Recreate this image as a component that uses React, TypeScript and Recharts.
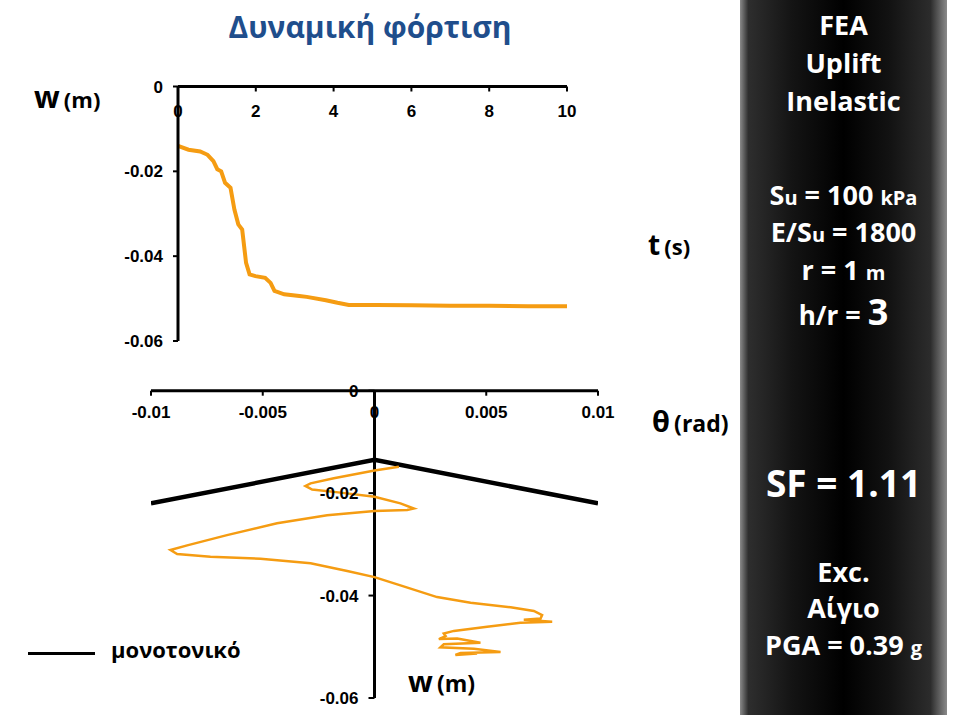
import React from 'react'
import { LineChart, Line, XAxis, YAxis, ReferenceLine, ReferenceDot } from 'recharts'

// time history: settlement w (m) vs time t (s)
const tTime = [0, 0.27, 0.57, 0.76, 0.91, 1.01, 1.11, 1.21, 1.35, 1.45, 1.55, 1.65, 1.75, 1.84, 1.99, 2.24, 2.38, 2.48, 2.73, 3.12, 3.31, 3.8, 4.1, 4.39, 5.08, 6, 7, 8, 9, 10]
const wTime = [-0.014, -0.0149, -0.0153, -0.0161, -0.0176, -0.0195, -0.02, -0.0227, -0.0239, -0.029, -0.0325, -0.0337, -0.0416, -0.0443, -0.0447, -0.0451, -0.0463, -0.0482, -0.049, -0.0494, -0.0496, -0.0504, -0.051, -0.0515, -0.0515, -0.0516, -0.0517, -0.0517, -0.0518, -0.0518]

// rotation vs settlement
const thetaMono = [-0.01, 0, 0.01]
const wMono = [-0.022, -0.0135, -0.022]
const thetaDyn = [0.00109, 0, -0.00182, -0.00286, -0.00309, -0.00279, -0.00152, 0, 0.00116, 0.00176, 0.00146, 0, -0.00212, -0.00436, -0.0066, -0.00838, -0.00913, -0.00883, -0.00734, -0.0051, -0.00286, -0.00122, 0, 0.00116, 0.0028, 0.0043, 0.00609, 0.00713, 0.0075, 0.00743, 0.00668, 0.00795, 0.00653, 0.00504, 0.00355, 0.0031, 0.00318, 0.00288, 0.0037, 0.00474, 0.0031, 0.00295, 0.00445, 0.00564, 0.00385, 0.00362, 0.00459]
const wDyn = [-0.01485, -0.0156, -0.0171, -0.0181, -0.0186, -0.0193, -0.0199, -0.0207, -0.022, -0.023, -0.0233, -0.0235, -0.0243, -0.0259, -0.0282, -0.0302, -0.0311, -0.0319, -0.0324, -0.0328, -0.0337, -0.0352, -0.0364, -0.038, -0.0403, -0.0414, -0.0423, -0.043, -0.0438, -0.0445, -0.0447, -0.0451, -0.0453, -0.0461, -0.0469, -0.0474, -0.0479, -0.0485, -0.0484, -0.0492, -0.0495, -0.0501, -0.0504, -0.051, -0.0512, -0.0516, -0.0513]

const tTicks = [0, 2, 4, 6, 8, 10]
const wTicks = [-0.06, -0.04, -0.02, 0]
const thetaTicks = [-0.01, -0.005, 0, 0.005, 0.01]

const timeRows = tTime.map((t, i) => ({ t, w: wTime[i] }))
const monoRows = thetaMono.map((theta, i) => ({ theta, w: wMono[i] }))
const dynRows = thetaDyn.map((theta, i) => ({ theta, w: wDyn[i] }))

const ORANGE = '#f59c12'
const SANS = "'Open Sans', 'Noto Sans', sans-serif"
const tickFont = { fontSize: 17, fontWeight: 700, fill: '#000', fontFamily: "'Liberation Sans', Arial, sans-serif" }
const axisLine = { stroke: '#000', strokeWidth: 3 }
const tickLine = { stroke: '#000', strokeWidth: 2 }

function YTick(props: any) {
  const { cx, cy, value } = props
  return (
    <g>
      <line x1={cx - 6} y1={cy} x2={cx} y2={cy} stroke="#000" strokeWidth={2} />
      <text x={cx - 16} y={cy + 6} textAnchor="end" {...tickFont}>{String(value)}</text>
    </g>
  )
}

function PanelLine({ y, size = 27, children }: { y: number; size?: number; children: React.ReactNode }) {
  return (
    <div style={{ position: 'absolute', left: 0, width: 207, top: y - 22, height: 44, lineHeight: '44px', textAlign: 'center', color: '#fff', fontWeight: 700, fontSize: size, fontFamily: SANS, whiteSpace: 'nowrap' }}>
      {children}
    </div>
  )
}

const small = { fontSize: 20 }

export default function App() {
  return (
    <div style={{ position: 'absolute', left: 0, top: 0, width: 957, height: 715, background: '#fff', overflow: 'hidden', fontFamily: SANS }}>
      <div style={{ position: 'absolute', left: 0, width: 740, top: 6, textAlign: 'center', color: '#1f4e8c', fontWeight: 700, fontSize: 30 }}>
        Δυναμική φόρτιση
      </div>

      <div style={{ position: 'absolute', left: 34, top: 76, fontWeight: 700, color: '#000', whiteSpace: 'nowrap' }}>
        <span style={{ fontSize: 30 }}>w</span> <span style={{ fontSize: 22 }}>(m)</span>
      </div>
      <div style={{ position: 'absolute', left: 648, top: 225, fontWeight: 700, color: '#000', whiteSpace: 'nowrap' }}>
        <span style={{ fontSize: 28 }}>t</span>&nbsp;<span style={{ fontSize: 22 }}>(s)</span>
      </div>
      <div style={{ position: 'absolute', left: 652, top: 401, fontWeight: 700, color: '#000', whiteSpace: 'nowrap' }}>
        <span style={{ fontSize: 29 }}>θ</span>&nbsp;<span style={{ fontSize: 23 }}>(rad)</span>
      </div>
      <div style={{ position: 'absolute', left: 408, top: 661, fontWeight: 700, color: '#000', whiteSpace: 'nowrap' }}>
        <span style={{ fontSize: 29 }}>w</span> <span style={{ fontSize: 23 }}>(m)</span>
      </div>

      <div style={{ position: 'absolute', left: 28, top: 652, width: 67, height: 3, background: '#000' }} />
      <div style={{ position: 'absolute', left: 111, top: 634, fontWeight: 700, fontSize: 22, color: '#000' }}>μονοτονικό</div>

      <div style={{ position: 'absolute', left: 100, top: 70 }}>
        <LineChart width={497} height={286} data={timeRows} margin={{ top: 16.5, right: 30, bottom: 15, left: 18 }}>
          <XAxis dataKey="t" type="number" domain={[0, 10]} ticks={tTicks} interval={0} orientation="top" mirror
            axisLine={axisLine} tickLine={tickLine} tickSize={5} tickMargin={13} tick={tickFont} />
          <YAxis type="number" domain={[-0.06, 0]} ticks={wTicks} interval={0} width={60}
            axisLine={axisLine} tickLine={tickLine} tickSize={5} tickMargin={10} tick={tickFont}
            tickFormatter={(v) => String(v)} />
          <Line dataKey="w" type="linear" stroke={ORANGE} strokeWidth={4} dot={false} isAnimationActive={false} />
        </LineChart>
      </div>

      <div style={{ position: 'absolute', left: 100, top: 370 }}>
        <LineChart width={528} height={345} margin={{ top: 20.7, right: 30, bottom: 17, left: 51 }}>
          <XAxis dataKey="theta" type="number" domain={[-0.01, 0.01]} ticks={thetaTicks} interval={0} orientation="top" mirror
            allowDataOverflow axisLine={axisLine} tickLine={tickLine} tickSize={5} tickMargin={10} tick={tickFont}
            tickFormatter={(v) => String(v)} />
          <YAxis type="number" dataKey="w" domain={[-0.06, 0]} hide allowDataOverflow />
          <ReferenceLine x={0} stroke="#000" strokeWidth={3} />
          {wTicks.map((v) => (
            <ReferenceDot key={v} x={0} y={v} r={0} shape={(p: any) => <YTick {...p} value={v} />} />
          ))}
          <Line data={monoRows} dataKey="w" type="linear" stroke="#000" strokeWidth={4.5} dot={false} isAnimationActive={false} />
          <Line data={dynRows} dataKey="w" type="linear" stroke={ORANGE} strokeWidth={2.5} dot={false} isAnimationActive={false} />
        </LineChart>
      </div>

      <div style={{ position: 'absolute', left: 740, top: 0, width: 207, height: 715, background: 'linear-gradient(to right, #8a8a8a 0%, #2e2e2e 4%, #141414 25%, #000 50%, #121212 72%, #2c2c2c 92%, #8a8a8a 100%)' }}>
        <PanelLine y={25}>FEA</PanelLine>
        <PanelLine y={63}>Uplift</PanelLine>
        <PanelLine y={101}>Inelastic</PanelLine>
        <PanelLine y={195}>S<span style={small}>u</span> = 100 <span style={small}>kPa</span></PanelLine>
        <PanelLine y={232}>E/S<span style={small}>u</span> = 1800</PanelLine>
        <PanelLine y={270}>r = 1 <span style={small}>m</span></PanelLine>
        <PanelLine y={312}><span style={{ fontSize: 26 }}>h/r</span> = <span style={{ fontSize: 36 }}>3</span></PanelLine>
        <PanelLine y={483} size={37}>SF = 1.11</PanelLine>
        <PanelLine y={572}>Exc.</PanelLine>
        <PanelLine y={608}>Αίγιο</PanelLine>
        <PanelLine y={645}>PGA = 0.39 <span style={small}>g</span></PanelLine>
      </div>
    </div>
  )
}
